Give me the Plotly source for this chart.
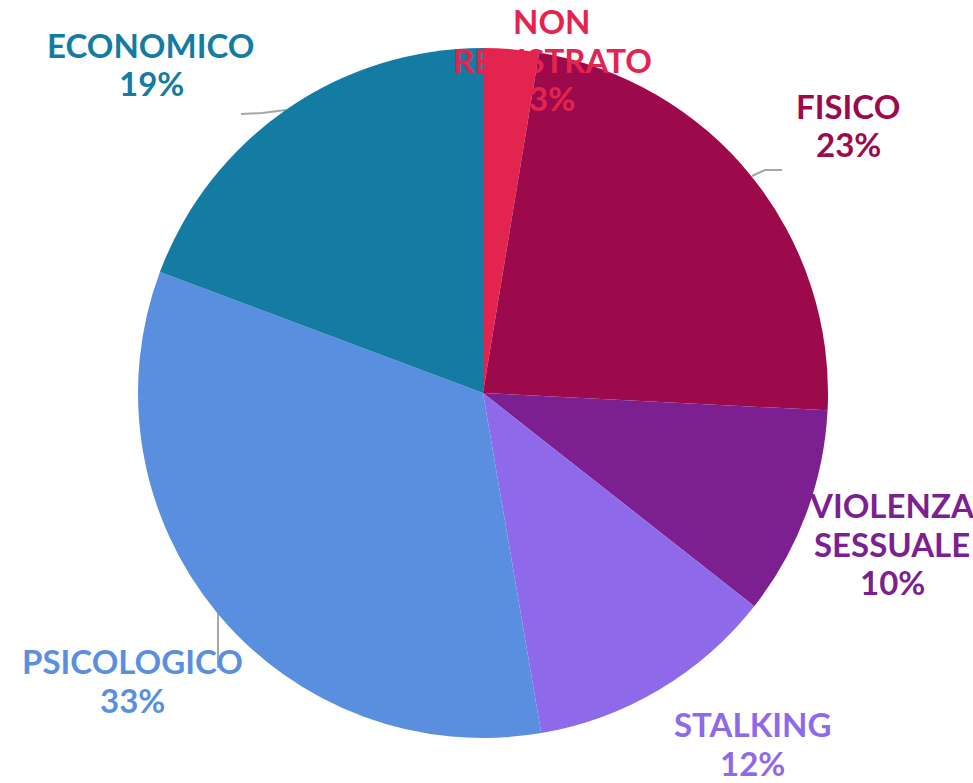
import plotly.graph_objects as go

labels = ["NON REGISTRATO", "FISICO", "VIOLENZA SESSUALE", "STALKING", "PSICOLOGICO", "ECONOMICO"]
label_lines = [["NON", "REGISTRATO"], ["FISICO"], ["VIOLENZA", "SESSUALE"], ["STALKING"], ["PSICOLOGICO"], ["ECONOMICO"]]
values = [2.6, 23.2, 9.8, 11.7, 33.4, 19.3]
colors = ["#E3244E", "#9C0A4B", "#7B1F91", "#8E6AEB", "#5A8FE0", "#147BA3"]

W, H = 973, 783
# label block: centre x and y of the first line (pixels), line spacing
label_pos = [(552, 21), (848, 106), (892, 505), (752, 724), (132, 661), (151, 45)]
LINE = 38.5

fig = go.Figure(go.Pie(
    labels=labels,
    values=values,
    marker=dict(colors=colors, line=dict(width=0)),
    sort=False,
    direction="clockwise",
    rotation=0,
    textinfo="none",
    hoverinfo="label+percent",
    showlegend=False,
    domain=dict(x=[(483 - 345) / W, (483 + 345) / W], y=[1 - 738 / H, 1 - 48 / H]),
))

total = sum(values)
annotations = []
for lines, v, c, (px, py) in zip(label_lines, values, colors, label_pos):
    pct = round(v / total * 100)
    for i, t in enumerate(lines + [f"{pct}%"]):
        annotations.append(dict(
            text=f"<b>{t}</b>",
            x=px / W, y=1 - (py + i * LINE) / H, xref="paper", yref="paper",
            xanchor="center", yanchor="middle", showarrow=False,
            font=dict(family="Lato", size=33, color=c),
        ))

def seg(pts):
    path = "M " + " L ".join(f"{x / W},{1 - y / H}" for x, y in pts)
    return dict(type="path", path=path, xref="paper", yref="paper",
                line=dict(color="#A6A6A6", width=2), layer="below")

shapes = [
    seg([(241, 114), (262, 113), (286, 110)]),
    seg([(752, 176), (765, 170), (782, 170)]),
    seg([(218, 613), (218, 668)]),
]

fig.update_layout(
    width=W, height=H,
    margin=dict(l=0, r=0, t=0, b=0),
    paper_bgcolor="white", plot_bgcolor="white",
    annotations=annotations,
    shapes=shapes,
)

fig.write_html("out.html", config={"displayModeBar": False},
               post_script="document.body.style.margin='0';document.body.style.overflow='hidden';")
